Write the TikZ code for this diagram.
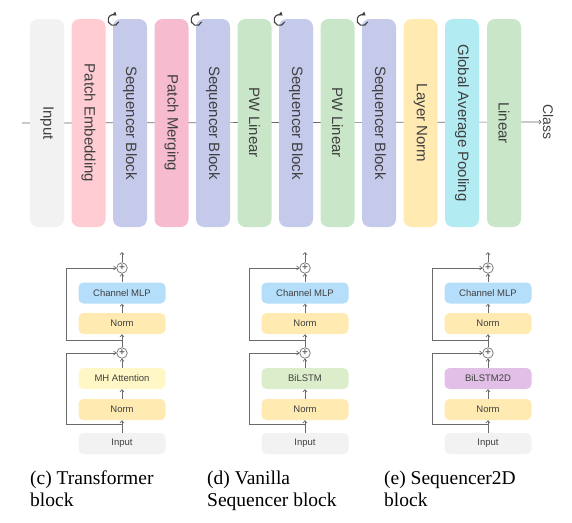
\documentclass[tikz,border=0pt]{standalone}
\usepackage{fontspec}
\setmainfont{Liberation Serif}
\setsansfont{Liberation Sans}
\usetikzlibrary{arrows.meta}

\definecolor{cinput}{HTML}{F2F2F2}
\definecolor{cembed}{HTML}{FFCCD3}
\definecolor{cseq}{HTML}{C5CAEB}
\definecolor{cmerge}{HTML}{F6BBCF}
\definecolor{cpw}{HTML}{C9E6C9}
\definecolor{cnorm}{HTML}{FFEAB2}
\definecolor{cpool}{HTML}{B2EBF2}
\definecolor{cmlp}{HTML}{B4DEFA}
\definecolor{cattn}{HTML}{FFF8C6}
\definecolor{clstm}{HTML}{DCEDCB}
\definecolor{clstmtwo}{HTML}{E2BFE6}
\definecolor{ctxt}{HTML}{404040}
\definecolor{cline}{HTML}{6A6A6A}

\begin{document}
\begin{tikzpicture}[x=1pt, y=-1pt,
    layer/.style={rounded corners=8pt, rotate=-90, minimum width=208pt, minimum height=34pt, inner sep=0pt, text=ctxt, font=\sffamily\fontsize{15}{17}\selectfont},
    blk/.style={rounded corners=5pt, minimum width=87pt, minimum height=21pt, inner sep=0pt, text=ctxt, font=\sffamily\fontsize{9.5}{11}\selectfont},
    plus/.style={circle, draw=cline, line width=0.7pt, minimum size=10.5pt, inner sep=0pt, font=\sffamily\fontsize{10}{10}\selectfont\bfseries, text=cline},
    flow/.style={draw=cline, line width=0.7pt, -{Straight Barb[length=2.2pt, width=4pt]}},
    caption/.style={anchor=north west, inner sep=0pt, align=left, font=\rmfamily\fontsize{19.5}{22}\selectfont}]

    \useasboundingbox (0,0) rectangle (572,522);

    % backbone
    \coordinate (start) at (22,123);
    \node[rotate=-90, inner sep=1pt, text=ctxt, font=\sffamily\fontsize{14}{16}\selectfont] (class) at (548,122) {Class};
    \draw[flow] (start) -- (class);

    \node[layer, fill=cinput] (input) at (47,123) {Input};
    \node[layer, fill=cembed] (embed) at (88.5,123) {Patch Embedding};
    \node[layer, fill=cseq] (seqa) at (130,123) {Sequencer Block};
    \node[layer, fill=cmerge] (merge) at (171.5,123) {Patch Merging};
    \node[layer, fill=cseq] (seqb) at (213,123) {Sequencer Block};
    \node[layer, fill=cpw] (pwa) at (254.5,123) {PW Linear};
    \node[layer, fill=cseq] (seqc) at (296,123) {Sequencer Block};
    \node[layer, fill=cpw] (pwb) at (337.5,123) {PW Linear};
    \node[layer, fill=cseq] (seqd) at (379,123) {Sequencer Block};
    \node[layer, fill=cnorm] (lnorm) at (420.5,123) {Layer Norm};
    \node[layer, fill=cpool] (pool) at (462,123) {Global Average Pooling};
    \node[layer, fill=cpw] (linear) at (504,123) {Linear};

    % repeat marks
    \draw[ctxt, line width=1.1pt, -{Triangle[length=3.5pt, width=4.5pt]}] (113.5,20) ++(20:5.5) arc (20:305:5.5);
    \draw[ctxt, line width=1.1pt, -{Triangle[length=3.5pt, width=4.5pt]}] (196.5,20) ++(20:5.5) arc (20:305:5.5);
    \draw[ctxt, line width=1.1pt, -{Triangle[length=3.5pt, width=4.5pt]}] (279.5,20) ++(20:5.5) arc (20:305:5.5);
    \draw[ctxt, line width=1.1pt, -{Triangle[length=3.5pt, width=4.5pt]}] (362.5,20) ++(20:5.5) arc (20:305:5.5);

    % (c) transformer block
    \node[blk, fill=cinput] (cin) at (122,443.5) {Input};
    \node[blk, fill=cnorm] (cna) at (122,409.5) {Norm};
    \node[blk, fill=cattn] (cmix) at (122,378.5) {MH Attention};
    \node[plus] (cpa) at (122,353) {+};
    \node[blk, fill=cnorm] (cnb) at (122,323.5) {Norm};
    \node[blk, fill=cmlp] (cmlp) at (122,293) {Channel MLP};
    \node[plus] (cpb) at (122,268) {+};
    \coordinate (cout) at (122,252);
    \coordinate (cba) at (122,424);
    \coordinate (cka) at (66,353);
    \coordinate (cbb) at (122,340);
    \coordinate (ckb) at (66,268);
    \draw[flow] (cin) -- (cna);
    \draw[flow] (cna) -- (cmix);
    \draw[flow] (cmix) -- (cpa);
    \draw[flow] (cpa) -- (cnb);
    \draw[flow] (cnb) -- (cmlp);
    \draw[flow] (cmlp) -- (cpb);
    \draw[flow] (cpb) -- (cout);
    \draw[flow] (cba) -| (cka) -- (cpa);
    \draw[flow] (cbb) -| (ckb) -- (cpb);

    % (d) vanilla sequencer block
    \node[blk, fill=cinput] (din) at (305,443.5) {Input};
    \node[blk, fill=cnorm] (dna) at (305,409.5) {Norm};
    \node[blk, fill=clstm] (dmix) at (305,378.5) {BiLSTM};
    \node[plus] (dpa) at (305,353) {+};
    \node[blk, fill=cnorm] (dnb) at (305,323.5) {Norm};
    \node[blk, fill=cmlp] (dmlp) at (305,293) {Channel MLP};
    \node[plus] (dpb) at (305,268) {+};
    \coordinate (dout) at (305,252);
    \coordinate (dba) at (305,424);
    \coordinate (dka) at (249,353);
    \coordinate (dbb) at (305,340);
    \coordinate (dkb) at (249,268);
    \draw[flow] (din) -- (dna);
    \draw[flow] (dna) -- (dmix);
    \draw[flow] (dmix) -- (dpa);
    \draw[flow] (dpa) -- (dnb);
    \draw[flow] (dnb) -- (dmlp);
    \draw[flow] (dmlp) -- (dpb);
    \draw[flow] (dpb) -- (dout);
    \draw[flow] (dba) -| (dka) -- (dpa);
    \draw[flow] (dbb) -| (dkb) -- (dpb);

    % (e) sequencer2d block
    \node[blk, fill=cinput] (ein) at (488,443.5) {Input};
    \node[blk, fill=cnorm] (ena) at (488,409.5) {Norm};
    \node[blk, fill=clstmtwo] (emix) at (488,378.5) {BiLSTM2D};
    \node[plus] (epa) at (488,353) {+};
    \node[blk, fill=cnorm] (enb) at (488,323.5) {Norm};
    \node[blk, fill=cmlp] (emlp) at (488,293) {Channel MLP};
    \node[plus] (epb) at (488,268) {+};
    \coordinate (eout) at (488,252);
    \coordinate (eba) at (488,424);
    \coordinate (eka) at (432,353);
    \coordinate (ebb) at (488,340);
    \coordinate (ekb) at (432,268);
    \draw[flow] (ein) -- (ena);
    \draw[flow] (ena) -- (emix);
    \draw[flow] (emix) -- (epa);
    \draw[flow] (epa) -- (enb);
    \draw[flow] (enb) -- (emlp);
    \draw[flow] (emlp) -- (epb);
    \draw[flow] (epb) -- (eout);
    \draw[flow] (eba) -| (eka) -- (epa);
    \draw[flow] (ebb) -| (ekb) -- (epb);

    % captions
    \node[caption] (capc) at (30,471) {(c) Transformer\\block};
    \node[caption] (capd) at (207,471) {(d) Vanilla\\Sequencer block};
    \node[caption] (cape) at (384,471) {(e) Sequencer2D\\block};

\end{tikzpicture}
\end{document}
